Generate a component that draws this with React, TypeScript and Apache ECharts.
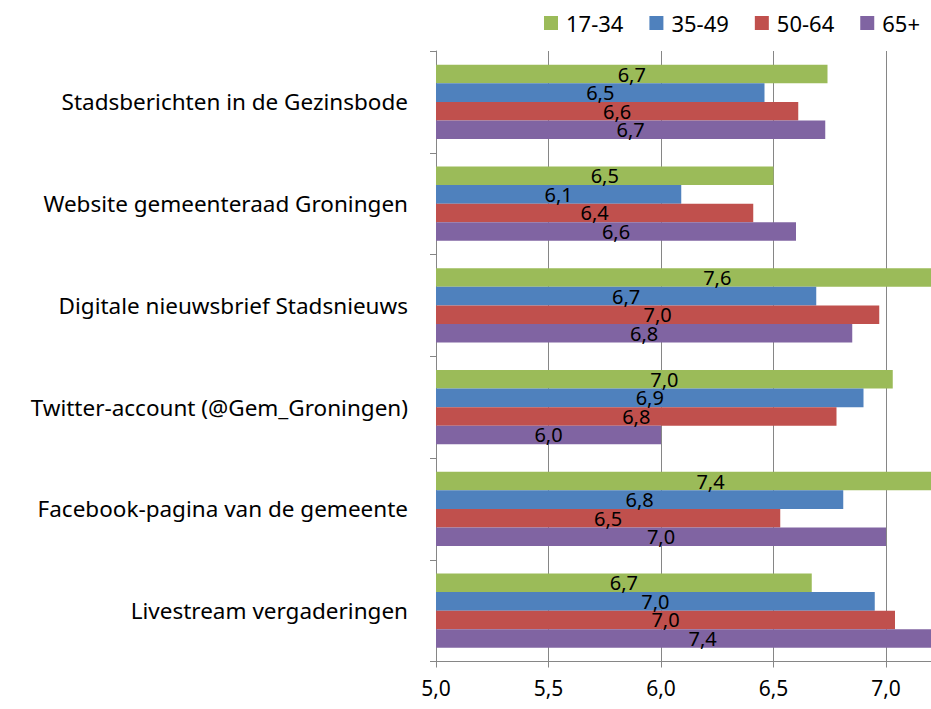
import React, { useEffect, useRef } from "react";
import * as echarts from "echarts";

const categories = [
  "Stadsberichten in de Gezinsbode",
  "Website gemeenteraad Groningen",
  "Digitale nieuwsbrief Stadsnieuws",
  "Twitter-account (@Gem_Groningen)",
  "Facebook-pagina van de gemeente",
  "Livestream vergaderingen",
];
const seriesNames = ["17-34", "35-49", "50-64", "65+"];
const colors = ["#9BBB59", "#4F81BD", "#C0504D", "#8064A2"];
const v1734 = [6.74, 6.5, 7.6, 7.03, 7.44, 6.67];
const v3549 = [6.46, 6.09, 6.69, 6.9, 6.81, 6.95];
const v5064 = [6.61, 6.41, 6.97, 6.78, 6.53, 7.04];
const v65 = [6.73, 6.6, 6.85, 6.0, 7.0, 7.37];
const xTicks = { min: 5, max: 7.5, interval: 0.5 };

const FONT = "Noto Sans";
const fmt = (v: number) => v.toFixed(1).replace(".", ",");
// The reference crops the plot at the right; the chart canvas is wider than the visible page.
const VIEW_W = 931;
const CHART_W = 999;

export default function App() {
  const ref = useRef<HTMLDivElement>(null);
  useEffect(() => {
    const chart = echarts.init(ref.current!, null, { renderer: "svg" });
    const values = [v1734, v3549, v5064, v65];
    chart.setOption({
      animation: false,
      textStyle: { fontFamily: FONT },
      legend: {
        right: CHART_W - VIEW_W + 6,
        top: 7,
        itemWidth: 14,
        itemHeight: 14,
        itemGap: 26,
        icon: "rect",
        textStyle: { fontFamily: FONT, fontSize: 22, color: "#000", padding: [0, 0, 0, 3] },
        data: seriesNames,
      },
      grid: { left: 436, top: 51, right: 0.5, bottom: 47.5 },
      xAxis: {
        type: "value",
        min: xTicks.min,
        max: xTicks.max,
        interval: xTicks.interval,
        axisLine: { show: true, lineStyle: { color: "#868686", width: 1 } },
        axisTick: { show: true, length: 6, lineStyle: { color: "#868686" } },
        splitLine: { show: true, lineStyle: { color: "#868686", width: 1 } },
        axisLabel: {
          formatter: fmt,
          fontFamily: FONT,
          fontSize: 21,
          color: "#000",
          margin: 16,
          showMaxLabel: false,
        },
      },
      yAxis: {
        type: "category",
        data: categories,
        inverse: true,
        axisLine: { show: true, lineStyle: { color: "#868686", width: 1 } },
        axisTick: { show: true, length: 6, lineStyle: { color: "#868686" } },
        axisLabel: { fontFamily: FONT, fontSize: 22.5, color: "#000", margin: 28 },
      },
      series: seriesNames.map((name, i) => ({
        name,
        type: "bar",
        data: values[i],
        barGap: "0%",
        barCategoryGap: "27%",
        itemStyle: { color: colors[i] },
        label: {
          show: true,
          position: "inside",
          formatter: (p: any) => fmt(p.value),
          fontFamily: FONT,
          fontSize: 20,
          color: "#000",
        },
      })),
    });
    return () => chart.dispose();
  }, []);
  return (
    <div
      style={{ position: "absolute", left: 0, top: 0, width: VIEW_W, height: 709, overflow: "hidden" }}
    >
      <div ref={ref} style={{ width: CHART_W, height: 709 }} />
    </div>
  );
}
